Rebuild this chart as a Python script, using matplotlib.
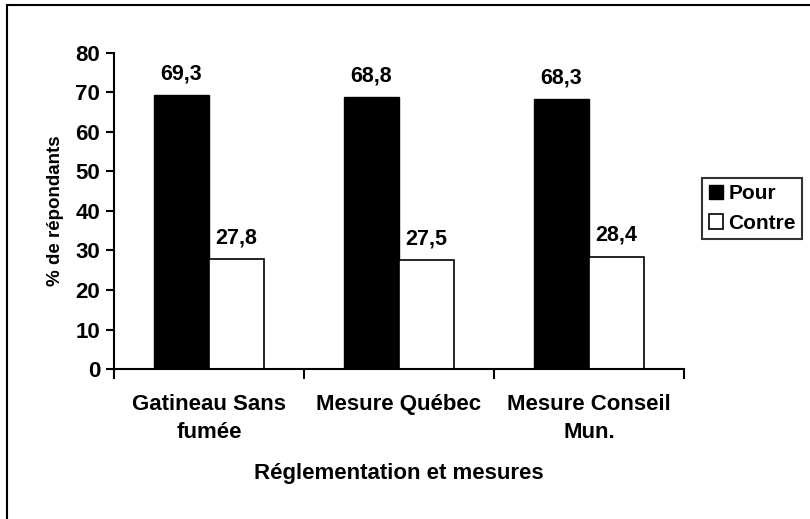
import matplotlib.pyplot as plt
import numpy as np
from matplotlib.patches import Rectangle

plt.rcParams["font.family"] = ["Liberation Sans", "DejaVu Sans"]
plt.rcParams["font.weight"] = "bold"

CATEGORIES = ["Gatineau Sans\nfumée", "Mesure Québec", "Mesure Conseil\nMun."]
POUR = [69.3, 68.8, 68.3]
CONTRE = [27.8, 27.5, 28.4]
SERIES = ["Pour", "Contre"]
Y_TICKS = [0, 10, 20, 30, 40, 50, 60, 70, 80]

fig = plt.figure(figsize=(8.1, 5.19), dpi=100)
ax = fig.add_axes([0.1407, 0.289, 0.7037, 0.609])

x = np.arange(len(CATEGORIES))
w = 0.29
b1 = ax.bar(x - w / 2, POUR, w, color="black", edgecolor="black", lw=1, label=SERIES[0])
b2 = ax.bar(x + w / 2, CONTRE, w, color="white", edgecolor="black", lw=1.2, label=SERIES[1])
for bars in (b1, b2):
    for r in bars:
        ax.annotate(f"{r.get_height():.1f}".replace(".", ","),
                    (r.get_x() + r.get_width() / 2, r.get_height()),
                    xytext=(0, 8), textcoords="offset points",
                    ha="center", va="bottom", fontsize=15.5, fontweight="bold")

ax.set_xlim(-0.5, len(CATEGORIES) - 0.5)
ax.set_ylim(0, 80)
ax.set_yticks(Y_TICKS)
ax.set_yticklabels([str(t) for t in Y_TICKS], fontsize=16, fontweight="bold")
ax.set_xticks(x)
ax.set_xticklabels(CATEGORIES, fontsize=16, fontweight="bold", linespacing=1.45)
ax.tick_params(axis="x", length=0, pad=18)
ax.set_xticks(np.arange(len(CATEGORIES) + 1) - 0.5, minor=True)
ax.tick_params(axis="x", which="minor", length=7, width=1.5, direction="out")
ax.tick_params(axis="y", length=6, width=1.5, direction="out", pad=4)
for s in ("top", "right"):
    ax.spines[s].set_visible(False)
for s in ("left", "bottom"):
    ax.spines[s].set_linewidth(1.5)

ax.set_xlabel("Réglementation et mesures", fontsize=16, fontweight="bold", labelpad=14)
ax.set_ylabel("% de répondants", fontsize=13.5, fontweight="bold", labelpad=8)

leg = ax.legend(loc="upper left", bbox_to_anchor=(0.867, 0.657), bbox_transform=fig.transFigure,
                frameon=True, fancybox=False, edgecolor="black", fontsize=15,
                handlelength=0.7, handleheight=0.7, handletextpad=0.25,
                borderpad=0.3, labelspacing=0.5, borderaxespad=0)
leg.get_frame().set_linewidth(1.5)

fig.patches.append(Rectangle((7 / 810, -0.1), 1.2, 1 - 5 / 519 + 0.1, transform=fig.transFigure,
                             fill=False, edgecolor="black", lw=1.5))

fig.savefig("out.png", dpi=100)
